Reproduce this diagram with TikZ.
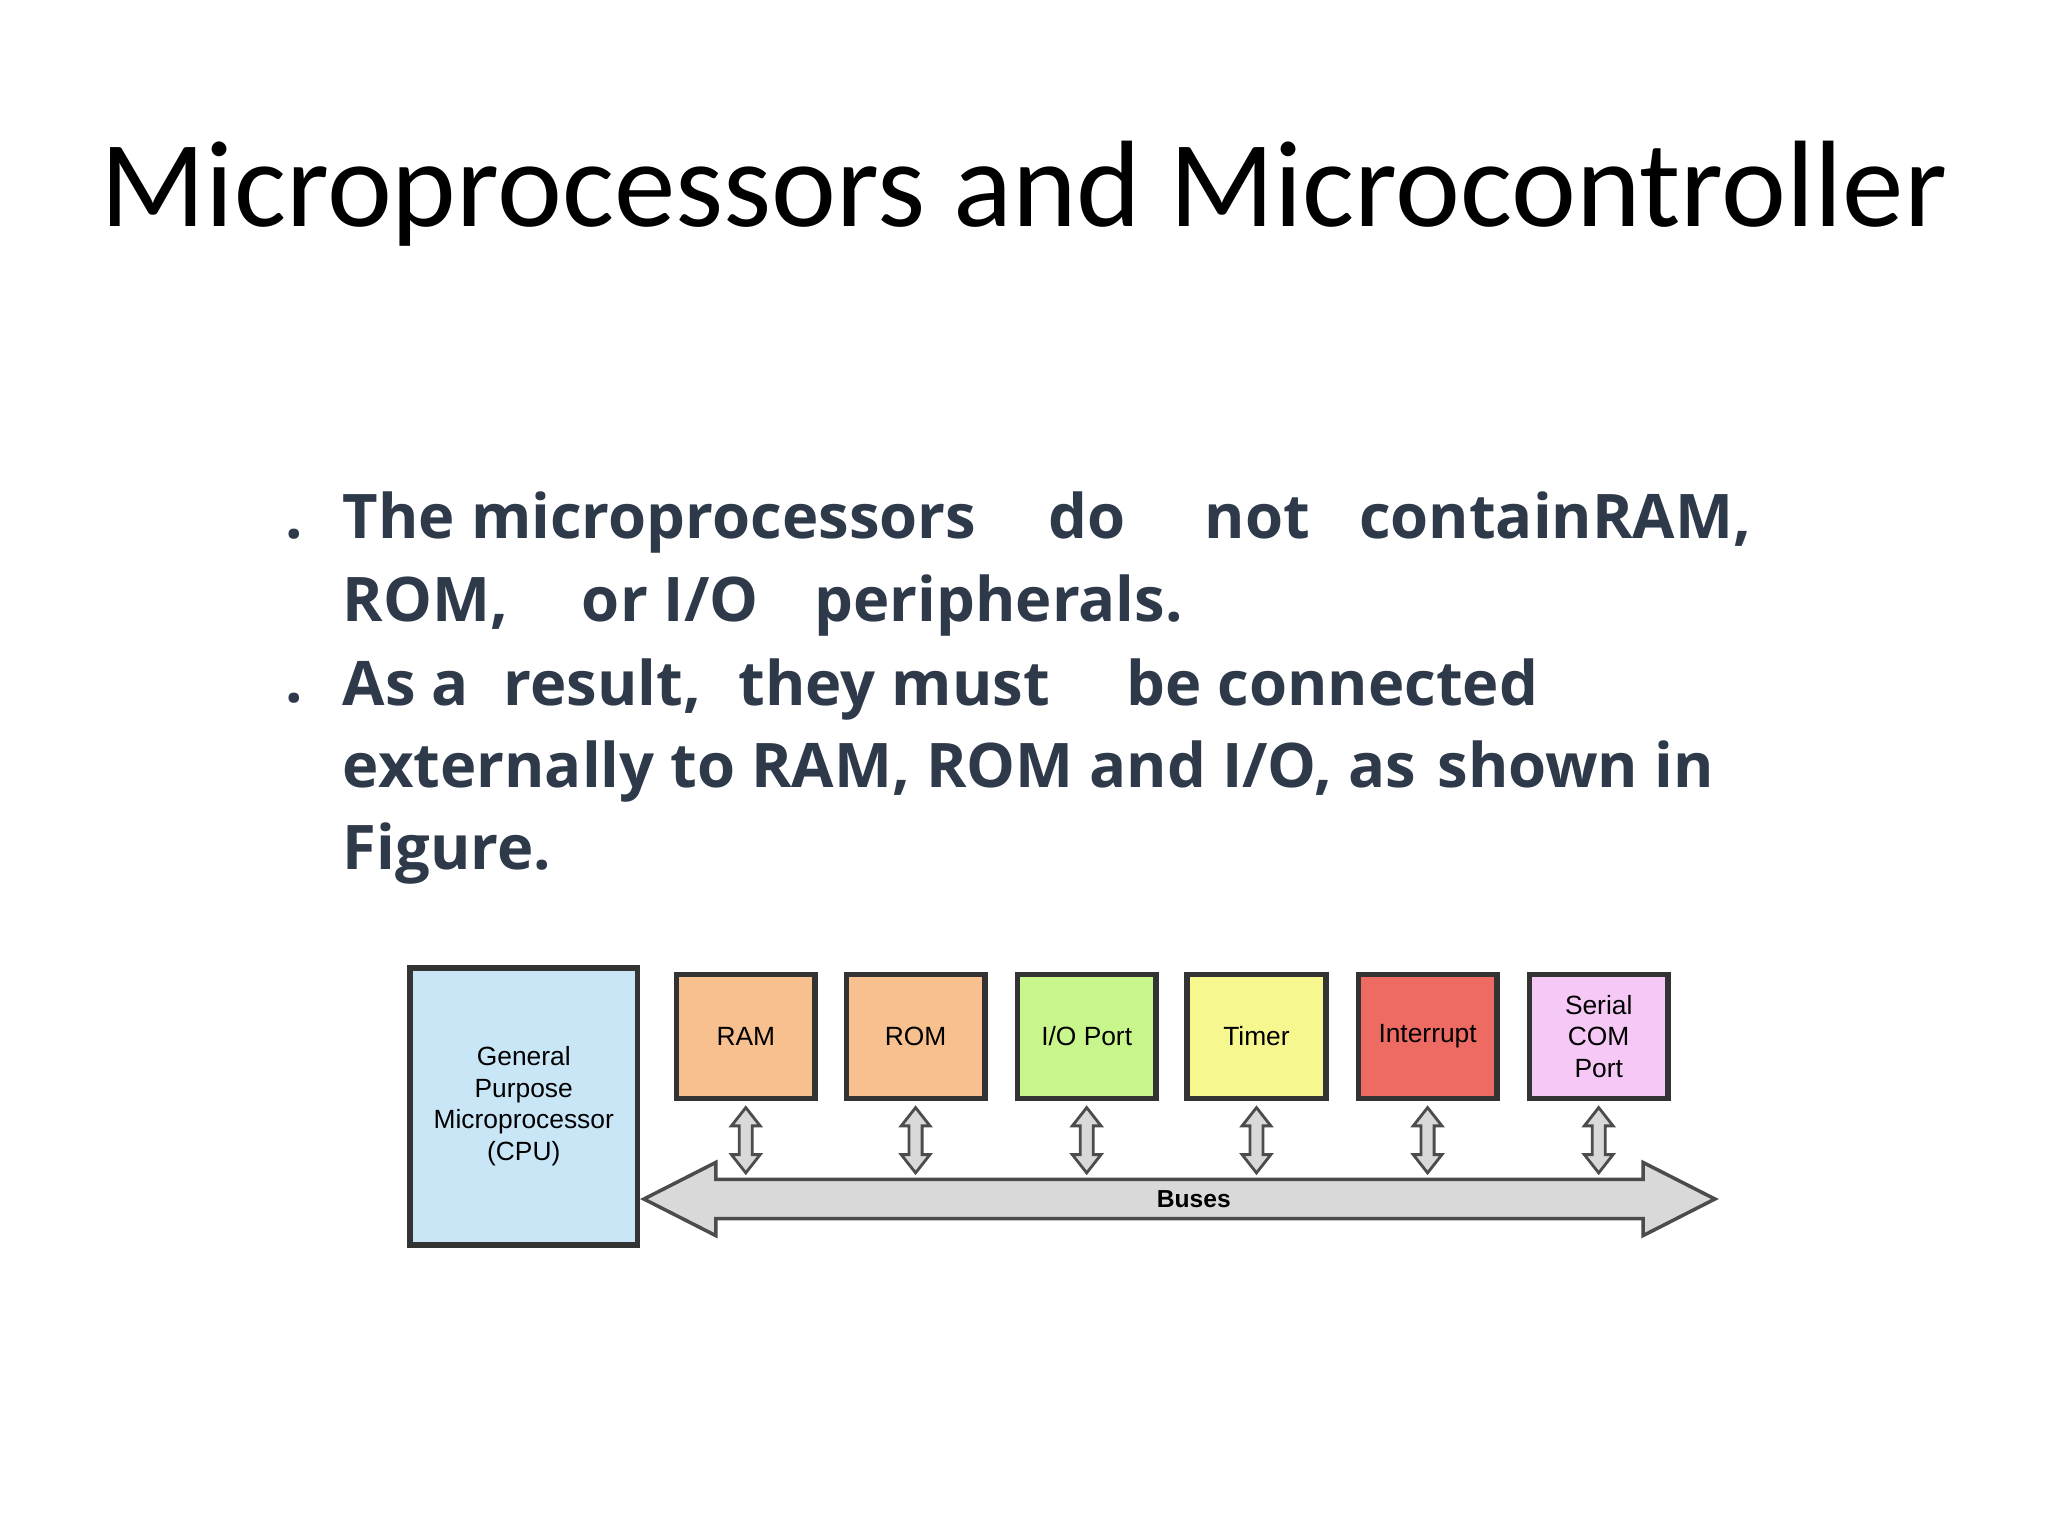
\documentclass[tikz,border=0pt]{standalone}
\usepackage{fontspec}
\setmainfont{Carlito}
\newfontfamily\bul{Open Sans}
\newfontfamily\arl{Liberation Sans}
\definecolor{txt}{HTML}{2E3A4A}
\definecolor{cpu}{HTML}{C9E6F7}
\definecolor{ora}{HTML}{F8C08E}
\definecolor{grn}{HTML}{C8F68C}
\definecolor{yel}{HTML}{F7F790}
\definecolor{red1}{HTML}{EE6B63}
\definecolor{pnk}{HTML}{F5C8F5}
\definecolor{bus}{HTML}{D9D9D9}
\begin{document}
\begin{tikzpicture}[x=0.013061cm,y=-0.013061cm,
  bl/.style={anchor=base west,inner sep=0,font=\bul\bfseries\fontsize{17.5}{20}\selectfont,text=txt},
  blk/.style={draw=black!80,line width=1.6pt,font=\arl\fontsize{7.5}{9}\selectfont,align=center,inner sep=0},
  sa/.style={fill=bus,draw=black!70,line width=0.8pt}]
\useasboundingbox (0,0) rectangle (1568,1176);
\node[font=\fontsize{35}{40}\selectfont] (title) at (784,148) {Microprocessors and Microcontroller};
\foreach \y/\n in {412/b1,538/b2} \node[bl] (\n) at (218,\y) {.};
\node[bl] (l1a) at (262,412) {The microprocessors};
\node[bl] (l1b) at (802,412) {do};
\node[bl] (l1c) at (922,412) {not};
\node[bl] (l1d) at (1040,412) {containRAM,};
\node[bl] (l2a) at (262,476) {ROM,};
\node[bl] (l2b) at (445,476) {or I/O};
\node[bl] (l2c) at (623,476) {peripherals.};
\node[bl] (l3a) at (262,540) {As a};
\node[bl] (l3b) at (385,540) {result,};
\node[bl] (l3c) at (565,540) {they must};
\node[bl] (l3d) at (862,540) {be connected};
\node[bl] (l4a) at (262,603) {externally to RAM, ROM and I/O, as};
\node[bl] (l4b) at (1100,603) {shown in};
\node[bl] (l5a) at (262,666) {Figure.};
% bus
\draw[sa,line width=1pt] (493,918) -- (548,890) -- (548,903) -- (1258,903) -- (1258,890) -- (1313,918) -- (1258,946) -- (1258,933) -- (548,933) -- (548,946) -- cycle;
\node[font=\arl\bfseries\fontsize{7}{8}\selectfont] (buses) at (914,918) {Buses};
\node[blk,fill=cpu,minimum width=174*0.013061cm,minimum height=212*0.013061cm] (cpu) at (401,847) {General\\Purpose\\Microprocessor\\(CPU)};
\foreach \x/\c/\t/\n in {571/ora/RAM/ram,701/ora/ROM/rom,832/grn/I\slash O Port/io,962/yel/Timer/tim,1093/red1/Interrupt/int,1224/pnk/Serial\\COM\\Port/ser}{
  \node[blk,fill=\c,minimum width=106*0.013061cm,minimum height=95*0.013061cm] (\n) at (\x,793.5) {\t};
  \draw[sa] (\x,848) -- (\x+11,862) -- (\x+5,862) -- (\x+5,884) -- (\x+11,884) -- (\x,898) -- (\x-11,884) -- (\x-5,884) -- (\x-5,862) -- (\x-11,862) -- cycle;
}
\end{tikzpicture}
\end{document}
